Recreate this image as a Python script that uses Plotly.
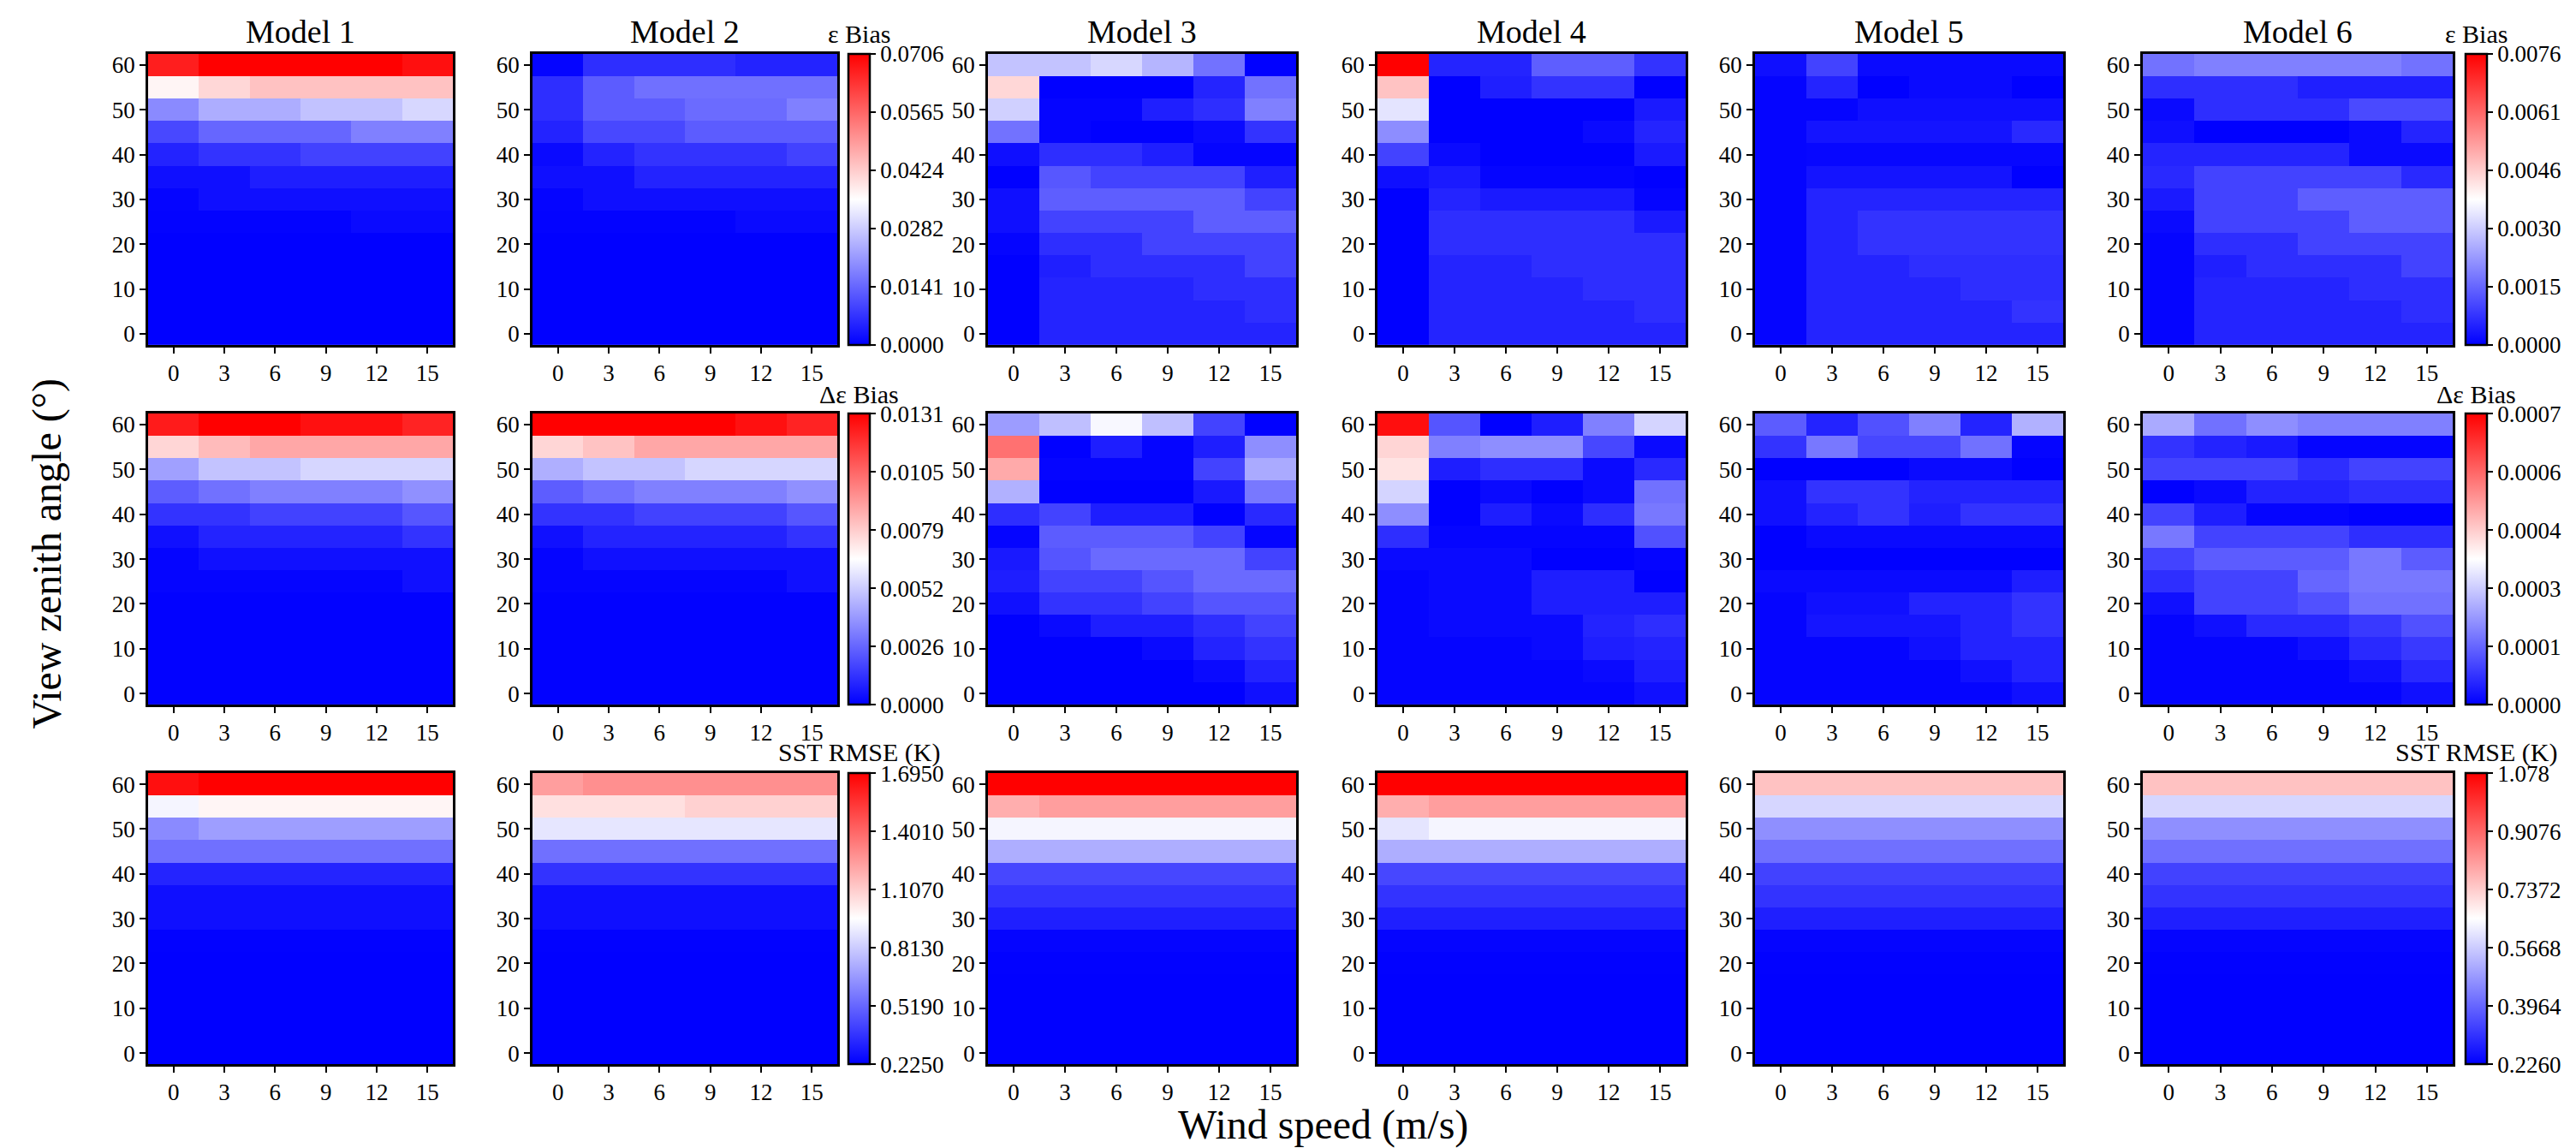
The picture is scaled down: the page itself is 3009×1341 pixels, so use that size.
import numpy as np
import plotly.graph_objects as go

# Figure size (px)
W, H = 3009, 1341
FONT = 'Times New Roman, Liberation Serif, serif'

# ═══════════════════════════════════════════════════════════════════════════
# DATA
# ═══════════════════════════════════════════════════════════════════════════

wind_speed = [0, 3, 6, 9, 12, 15]
view_zenith = [60, 55, 50, 45, 40, 35, 30, 25, 20, 15, 10, 5, 0]  # rows, top -> bottom
model_names = ['Model 1', 'Model 2', 'Model 3', 'Model 4', 'Model 5', 'Model 6']

# --- Row 1: emissivity bias ---
eps_bias_m1 = [
    [0.0664, 0.0706, 0.0706, 0.0706, 0.0706, 0.0685],
    [0.0367, 0.0409, 0.0438, 0.0438, 0.0438, 0.0438],
    [0.0191, 0.0240, 0.0240, 0.0268, 0.0268, 0.0297],
    [0.0099, 0.0141, 0.0141, 0.0141, 0.0177, 0.0177],
    [0.0049, 0.0071, 0.0071, 0.0092, 0.0092, 0.0092],
    [0.0021, 0.0021, 0.0042, 0.0042, 0.0042, 0.0042],
    [0.0007, 0.0021, 0.0021, 0.0021, 0.0021, 0.0021],
    [0.0004, 0.0004, 0.0004, 0.0004, 0.0014, 0.0014],
    [0.0002, 0.0002, 0.0002, 0.0002, 0.0002, 0.0002],
    [0.0001, 0.0001, 0.0001, 0.0001, 0.0001, 0.0001],
    [0.0001, 0.0001, 0.0001, 0.0001, 0.0001, 0.0001],
    [0.0001, 0.0001, 0.0001, 0.0001, 0.0001, 0.0001],
    [0.0001, 0.0001, 0.0001, 0.0001, 0.0001, 0.0001],
]
eps_bias_m2 = [
    [0.0007, 0.0064, 0.0064, 0.0064, 0.0049, 0.0049],
    [0.0064, 0.0127, 0.0155, 0.0155, 0.0155, 0.0155],
    [0.0064, 0.0127, 0.0127, 0.0148, 0.0148, 0.0177],
    [0.0049, 0.0099, 0.0099, 0.0127, 0.0127, 0.0127],
    [0.0014, 0.0049, 0.0071, 0.0071, 0.0071, 0.0092],
    [0.0021, 0.0021, 0.0049, 0.0049, 0.0049, 0.0049],
    [0.0007, 0.0021, 0.0021, 0.0021, 0.0021, 0.0021],
    [0.0004, 0.0004, 0.0004, 0.0004, 0.0014, 0.0014],
    [0.0002, 0.0002, 0.0002, 0.0002, 0.0002, 0.0002],
    [0.0001, 0.0001, 0.0001, 0.0001, 0.0001, 0.0001],
    [0.0001, 0.0001, 0.0001, 0.0001, 0.0001, 0.0001],
    [0.0001, 0.0001, 0.0001, 0.0001, 0.0001, 0.0001],
    [0.0001, 0.0001, 0.0001, 0.0001, 0.0001, 0.0001],
]
eps_bias_m3 = [
    [0.0029, 0.0029, 0.0032, 0.0027, 0.0017, 0.00002],
    [0.0044, 0.00002, 0.00002, 0.00002, 0.00053, 0.0017],
    [0.0031, 0.00008, 0.00008, 0.00046, 0.00068, 0.0019],
    [0.0017, 0.00008, 0.00002, 0.00002, 0.00015, 0.00076],
    [0.00023, 0.00068, 0.00068, 0.00046, 0.00008, 0.00008],
    [0.00002, 0.0013, 0.0010, 0.0010, 0.0010, 0.00046],
    [0.00023, 0.0014, 0.0014, 0.0014, 0.0014, 0.0010],
    [0.00023, 0.0010, 0.0010, 0.0010, 0.0014, 0.0014],
    [0.00008, 0.00068, 0.00068, 0.0010, 0.0010, 0.0010],
    [0.00002, 0.00046, 0.00068, 0.00068, 0.00068, 0.0010],
    [0.00002, 0.00053, 0.00053, 0.00053, 0.00068, 0.00068],
    [0.00002, 0.00053, 0.00053, 0.00053, 0.00053, 0.00068],
    [0.00002, 0.00053, 0.00053, 0.00053, 0.00053, 0.00053],
]
eps_bias_m4 = [
    [0.0076, 0.00053, 0.00053, 0.0014, 0.0014, 0.00076],
    [0.0047, 0.00002, 0.00046, 0.00076, 0.00076, 0.00002],
    [0.0034, 0.00002, 0.00002, 0.00002, 0.00002, 0.00038],
    [0.0021, 0.00002, 0.00002, 0.00002, 0.00015, 0.00053],
    [0.0010, 0.00015, 0.00002, 0.00002, 0.00002, 0.00038],
    [0.00023, 0.00038, 0.00008, 0.00008, 0.00008, 0.00002],
    [0.00002, 0.00053, 0.00038, 0.00038, 0.00038, 0.00008],
    [0.00002, 0.00068, 0.00068, 0.00068, 0.00068, 0.00038],
    [0.00002, 0.00068, 0.00068, 0.00068, 0.00068, 0.00068],
    [0.00002, 0.00053, 0.00053, 0.00068, 0.00068, 0.00068],
    [0.00002, 0.00053, 0.00053, 0.00053, 0.00068, 0.00068],
    [0.00002, 0.00053, 0.00053, 0.00053, 0.00053, 0.00068],
    [0.00002, 0.00053, 0.00053, 0.00053, 0.00053, 0.00053],
]
eps_bias_m5 = [
    [0.00023, 0.0010, 0.00015, 0.00015, 0.00015, 0.00015],
    [0.00008, 0.00053, 0.00002, 0.00015, 0.00015, 0.00002],
    [0.00008, 0.00008, 0.00023, 0.00023, 0.00023, 0.00023],
    [0.00008, 0.00030, 0.00030, 0.00030, 0.00030, 0.00061],
    [0.00008, 0.00011, 0.00011, 0.00011, 0.00011, 0.00011],
    [0.00008, 0.00030, 0.00030, 0.00030, 0.00030, 0.00002],
    [0.00008, 0.00053, 0.00053, 0.00053, 0.00053, 0.00053],
    [0.00008, 0.00053, 0.00076, 0.00076, 0.00076, 0.00076],
    [0.00008, 0.00053, 0.00076, 0.00076, 0.00076, 0.00076],
    [0.00008, 0.00053, 0.00053, 0.00068, 0.00068, 0.00068],
    [0.00008, 0.00053, 0.00053, 0.00053, 0.00068, 0.00068],
    [0.00008, 0.00053, 0.00053, 0.00053, 0.00053, 0.00076],
    [0.00008, 0.00053, 0.00053, 0.00053, 0.00053, 0.00053],
]
eps_bias_m6 = [
    [0.0017, 0.0019, 0.0019, 0.0019, 0.0019, 0.0017],
    [0.00068, 0.00068, 0.00068, 0.00046, 0.00046, 0.00046],
    [0.00015, 0.00068, 0.00068, 0.00068, 0.0011, 0.0011],
    [0.00023, 0.00002, 0.00002, 0.00002, 0.00015, 0.00053],
    [0.00053, 0.00053, 0.00053, 0.00053, 0.00015, 0.00015],
    [0.00061, 0.0010, 0.0010, 0.0010, 0.0010, 0.00061],
    [0.00038, 0.0010, 0.0010, 0.0014, 0.0014, 0.0014],
    [0.00015, 0.0010, 0.0010, 0.0010, 0.0014, 0.0014],
    [0.00008, 0.00068, 0.00068, 0.0010, 0.0010, 0.0010],
    [0.00008, 0.00046, 0.00068, 0.00068, 0.00068, 0.0010],
    [0.00008, 0.00053, 0.00053, 0.00053, 0.00068, 0.00068],
    [0.00008, 0.00053, 0.00053, 0.00053, 0.00053, 0.00068],
    [0.00008, 0.00053, 0.00053, 0.00053, 0.00053, 0.00053],
]

# --- Row 2: delta-emissivity bias ---
deps_bias_m1 = [
    [0.0124, 0.0131, 0.0131, 0.0127, 0.0127, 0.0122],
    [0.0076, 0.0083, 0.0088, 0.0088, 0.0088, 0.0088],
    [0.0041, 0.0050, 0.0050, 0.0055, 0.0055, 0.0055],
    [0.0024, 0.0029, 0.0033, 0.0033, 0.0033, 0.0037],
    [0.0013, 0.0013, 0.0017, 0.0017, 0.0017, 0.0022],
    [0.0004, 0.0009, 0.0009, 0.0009, 0.0009, 0.0013],
    [0.00013, 0.0004, 0.0004, 0.0004, 0.0004, 0.0004],
    [0.00013, 0.00013, 0.00013, 0.00013, 0.00013, 0.0004],
    [0.00004, 0.00004, 0.00004, 0.00004, 0.00004, 0.00004],
    [0.00004, 0.00004, 0.00004, 0.00004, 0.00004, 0.00004],
    [0.00004, 0.00004, 0.00004, 0.00004, 0.00004, 0.00004],
    [0.00004, 0.00004, 0.00004, 0.00004, 0.00004, 0.00004],
    [0.00004, 0.00004, 0.00004, 0.00004, 0.00004, 0.00004],
]
deps_bias_m2 = [
    [0.0131, 0.0131, 0.0131, 0.0131, 0.0127, 0.0122],
    [0.0076, 0.0081, 0.0088, 0.0088, 0.0088, 0.0088],
    [0.0045, 0.0050, 0.0050, 0.0055, 0.0055, 0.0055],
    [0.0024, 0.0029, 0.0033, 0.0033, 0.0033, 0.0037],
    [0.0013, 0.0013, 0.0017, 0.0017, 0.0017, 0.0022],
    [0.0004, 0.0009, 0.0009, 0.0009, 0.0009, 0.0013],
    [0.00013, 0.0004, 0.0004, 0.0004, 0.0004, 0.0004],
    [0.00013, 0.00013, 0.00013, 0.00013, 0.00013, 0.0004],
    [0.00004, 0.00004, 0.00004, 0.00004, 0.00004, 0.00004],
    [0.00004, 0.00004, 0.00004, 0.00004, 0.00004, 0.00004],
    [0.00004, 0.00004, 0.00004, 0.00004, 0.00004, 0.00004],
    [0.00004, 0.00004, 0.00004, 0.00004, 0.00004, 0.00004],
    [0.00004, 0.00004, 0.00004, 0.00004, 0.00004, 0.00004],
]
deps_bias_m3 = [
    [2.2e-4, 2.7e-4, 3.5e-4, 2.7e-4, 9.4e-5, 1e-6],
    [5.6e-4, 1e-6, 4.3e-5, 7e-6, 4.3e-5, 2.0e-4],
    [4.8e-4, 7e-6, 7e-6, 7e-6, 9.4e-5, 2.4e-4],
    [2.5e-4, 1e-6, 1e-6, 1e-6, 3.6e-5, 1.7e-4],
    [6.5e-5, 9.4e-5, 4.3e-5, 4.3e-5, 1e-6, 5.8e-5],
    [7e-6, 1.3e-4, 1.3e-4, 1.3e-4, 9.4e-5, 7e-6],
    [3.6e-5, 1.2e-4, 1.5e-4, 1.5e-4, 1.5e-4, 9.4e-5],
    [4.3e-5, 9.4e-5, 9.4e-5, 1.2e-4, 1.5e-4, 1.5e-4],
    [2.2e-5, 7.2e-5, 7.2e-5, 9.4e-5, 1.2e-4, 1.2e-4],
    [1e-6, 1.4e-5, 4.3e-5, 4.3e-5, 6.5e-5, 9.4e-5],
    [1e-6, 1e-6, 1e-6, 1.4e-5, 5.0e-5, 7.2e-5],
    [1e-6, 1e-6, 1e-6, 1e-6, 1.4e-5, 5.0e-5],
    [1e-6, 1e-6, 1e-6, 1e-6, 1e-6, 2.2e-5],
]
deps_bias_m4 = [
    [7.0e-4, 1.2e-4, 1e-6, 4.3e-5, 1.8e-4, 3.0e-4],
    [4.2e-4, 1.8e-4, 2.0e-4, 2.0e-4, 1.0e-4, 1.4e-5],
    [4.0e-4, 4.3e-5, 6.5e-5, 6.5e-5, 1.4e-5, 5.8e-5],
    [3.0e-4, 1e-6, 1.4e-5, 1e-6, 1.4e-5, 1.6e-4],
    [2.0e-4, 1e-6, 4.3e-5, 1.4e-5, 6.5e-5, 1.7e-4],
    [6.5e-5, 7e-6, 7e-6, 7e-6, 7e-6, 1.15e-4],
    [1.4e-5, 1.4e-5, 1.4e-5, 1e-6, 1e-6, 7e-6],
    [7e-6, 1.4e-5, 1.4e-5, 4.3e-5, 4.3e-5, 1e-6],
    [7e-6, 1.4e-5, 1.4e-5, 4.3e-5, 4.3e-5, 4.3e-5],
    [7e-6, 1.4e-5, 1.4e-5, 1.4e-5, 5.0e-5, 6.5e-5],
    [7e-6, 7e-6, 7e-6, 1.4e-5, 4.3e-5, 5.0e-5],
    [7e-6, 7e-6, 7e-6, 7e-6, 1.4e-5, 4.3e-5],
    [7e-6, 7e-6, 7e-6, 7e-6, 7e-6, 2.2e-5],
]
deps_bias_m5 = [
    [1.3e-4, 5.0e-5, 1.15e-4, 1.8e-4, 5.0e-5, 2.5e-4],
    [7.2e-5, 1.7e-4, 1.0e-4, 1.0e-4, 1.6e-4, 7e-6],
    [1e-6, 1e-6, 1e-6, 1.4e-5, 1.4e-5, 1e-6],
    [2.2e-5, 7.2e-5, 7.2e-5, 5.0e-5, 5.0e-5, 5.0e-5],
    [2.2e-5, 5.0e-5, 7.2e-5, 4.3e-5, 7.2e-5, 7.2e-5],
    [1e-6, 1.4e-5, 1.4e-5, 1.4e-5, 1.4e-5, 1.4e-5],
    [1e-6, 1e-6, 1e-6, 1e-6, 1e-6, 1e-6],
    [1.4e-5, 1.4e-5, 1.4e-5, 1.4e-5, 1.4e-5, 4.3e-5],
    [7e-6, 2.2e-5, 2.2e-5, 5.0e-5, 5.0e-5, 7.2e-5],
    [7e-6, 2.9e-5, 2.9e-5, 2.9e-5, 5.0e-5, 7.2e-5],
    [7e-6, 7e-6, 7e-6, 2.2e-5, 5.0e-5, 5.0e-5],
    [7e-6, 7e-6, 7e-6, 7e-6, 2.2e-5, 5.0e-5],
    [7e-6, 7e-6, 7e-6, 7e-6, 7e-6, 2.2e-5],
]
deps_bias_m6 = [
    [2.4e-4, 1.6e-4, 2.0e-4, 1.8e-4, 1.8e-4, 1.8e-4],
    [7.2e-5, 5.0e-5, 3.6e-5, 7e-6, 7e-6, 7e-6],
    [9.4e-5, 9.4e-5, 9.4e-5, 6.5e-5, 9.4e-5, 9.4e-5],
    [1e-6, 1.4e-5, 5.0e-5, 5.0e-5, 6.5e-5, 6.5e-5],
    [9.4e-5, 4.3e-5, 7e-6, 7e-6, 1e-6, 1e-6],
    [1.7e-4, 9.4e-5, 9.4e-5, 9.4e-5, 6.5e-5, 6.5e-5],
    [9.4e-5, 1.3e-4, 1.3e-4, 1.3e-4, 1.7e-4, 1.3e-4],
    [6.5e-5, 9.4e-5, 9.4e-5, 1.44e-4, 1.7e-4, 1.7e-4],
    [2.2e-5, 9.4e-5, 9.4e-5, 1.15e-4, 1.6e-4, 1.6e-4],
    [7e-6, 2.2e-5, 5.8e-5, 5.8e-5, 8.0e-5, 1.15e-4],
    [7e-6, 7e-6, 7e-6, 2.2e-5, 5.8e-5, 8.0e-5],
    [7e-6, 7e-6, 7e-6, 7e-6, 2.2e-5, 5.8e-5],
    [7e-6, 7e-6, 7e-6, 7e-6, 7e-6, 2.2e-5],
]

# --- Row 3: SST RMSE (K) ---
sst_rmse_m1 = [
    [1.651, 1.695, 1.695, 1.695, 1.695, 1.695],
    [0.931, 0.989, 0.989, 0.989, 0.989, 0.989],
    [0.622, 0.681, 0.681, 0.681, 0.681, 0.681],
    [0.548, 0.548, 0.548, 0.548, 0.548, 0.548],
    [0.328, 0.328, 0.328, 0.328, 0.328, 0.328],
    [0.269, 0.269, 0.269, 0.269, 0.269, 0.269],
    [0.269, 0.269, 0.269, 0.269, 0.269, 0.269],
    [0.232, 0.232, 0.232, 0.232, 0.232, 0.232],
    [0.229, 0.229, 0.229, 0.229, 0.229, 0.229],
    [0.228, 0.228, 0.228, 0.228, 0.228, 0.228],
    [0.227, 0.227, 0.227, 0.227, 0.227, 0.227],
    [0.226, 0.226, 0.226, 0.226, 0.226, 0.226],
    [0.226, 0.226, 0.226, 0.226, 0.226, 0.226],
]
sst_rmse_m2 = [
    [1.239, 1.283, 1.283, 1.283, 1.283, 1.283],
    [1.048, 1.048, 1.048, 1.092, 1.092, 1.092],
    [0.887, 0.887, 0.887, 0.887, 0.887, 0.887],
    [0.548, 0.548, 0.548, 0.548, 0.548, 0.548],
    [0.372, 0.372, 0.372, 0.372, 0.372, 0.372],
    [0.269, 0.269, 0.269, 0.269, 0.269, 0.269],
    [0.269, 0.269, 0.269, 0.269, 0.269, 0.269],
    [0.232, 0.232, 0.232, 0.232, 0.232, 0.232],
    [0.229, 0.229, 0.229, 0.229, 0.229, 0.229],
    [0.228, 0.228, 0.228, 0.228, 0.228, 0.228],
    [0.227, 0.227, 0.227, 0.227, 0.227, 0.227],
    [0.226, 0.226, 0.226, 0.226, 0.226, 0.226],
    [0.226, 0.226, 0.226, 0.226, 0.226, 0.226],
]
sst_rmse_m3 = [
    [1.078, 1.078, 1.078, 1.078, 1.078, 1.078],
    [0.788, 0.814, 0.814, 0.814, 0.814, 0.814],
    [0.635, 0.635, 0.635, 0.635, 0.635, 0.635],
    [0.516, 0.516, 0.516, 0.516, 0.516, 0.516],
    [0.345, 0.345, 0.345, 0.345, 0.345, 0.345],
    [0.311, 0.311, 0.311, 0.311, 0.311, 0.311],
    [0.277, 0.277, 0.277, 0.277, 0.277, 0.277],
    [0.235, 0.235, 0.235, 0.235, 0.235, 0.235],
    [0.229, 0.229, 0.229, 0.229, 0.229, 0.229],
    [0.228, 0.228, 0.228, 0.228, 0.228, 0.228],
    [0.228, 0.228, 0.228, 0.228, 0.228, 0.228],
    [0.227, 0.227, 0.227, 0.227, 0.227, 0.227],
    [0.227, 0.227, 0.227, 0.227, 0.227, 0.227],
]
sst_rmse_m4 = [
    [1.078, 1.078, 1.078, 1.078, 1.078, 1.078],
    [0.788, 0.814, 0.814, 0.814, 0.814, 0.814],
    [0.609, 0.635, 0.635, 0.635, 0.635, 0.635],
    [0.516, 0.516, 0.516, 0.516, 0.516, 0.516],
    [0.345, 0.345, 0.345, 0.345, 0.345, 0.345],
    [0.311, 0.311, 0.311, 0.311, 0.311, 0.311],
    [0.277, 0.277, 0.277, 0.277, 0.277, 0.277],
    [0.235, 0.235, 0.235, 0.235, 0.235, 0.235],
    [0.229, 0.229, 0.229, 0.229, 0.229, 0.229],
    [0.228, 0.228, 0.228, 0.228, 0.228, 0.228],
    [0.228, 0.228, 0.228, 0.228, 0.228, 0.228],
    [0.227, 0.227, 0.227, 0.227, 0.227, 0.227],
    [0.227, 0.227, 0.227, 0.227, 0.227, 0.227],
]
sst_rmse_m5 = [
    [0.754, 0.754, 0.754, 0.754, 0.754, 0.754],
    [0.584, 0.584, 0.584, 0.584, 0.584, 0.584],
    [0.465, 0.465, 0.465, 0.465, 0.465, 0.465],
    [0.413, 0.413, 0.413, 0.413, 0.413, 0.413],
    [0.337, 0.337, 0.337, 0.337, 0.337, 0.337],
    [0.311, 0.311, 0.311, 0.311, 0.311, 0.311],
    [0.277, 0.277, 0.277, 0.277, 0.277, 0.277],
    [0.235, 0.235, 0.235, 0.235, 0.235, 0.235],
    [0.229, 0.229, 0.229, 0.229, 0.229, 0.229],
    [0.228, 0.228, 0.228, 0.228, 0.228, 0.228],
    [0.228, 0.228, 0.228, 0.228, 0.228, 0.228],
    [0.227, 0.227, 0.227, 0.227, 0.227, 0.227],
    [0.227, 0.227, 0.227, 0.227, 0.227, 0.227],
]
sst_rmse_m6 = [
    [0.754, 0.754, 0.754, 0.754, 0.754, 0.754],
    [0.584, 0.584, 0.584, 0.584, 0.584, 0.584],
    [0.465, 0.465, 0.465, 0.465, 0.465, 0.465],
    [0.413, 0.413, 0.413, 0.413, 0.413, 0.413],
    [0.337, 0.337, 0.337, 0.337, 0.337, 0.337],
    [0.311, 0.311, 0.311, 0.311, 0.311, 0.311],
    [0.277, 0.277, 0.277, 0.277, 0.277, 0.277],
    [0.235, 0.235, 0.235, 0.235, 0.235, 0.235],
    [0.229, 0.229, 0.229, 0.229, 0.229, 0.229],
    [0.228, 0.228, 0.228, 0.228, 0.228, 0.228],
    [0.228, 0.228, 0.228, 0.228, 0.228, 0.228],
    [0.227, 0.227, 0.227, 0.227, 0.227, 0.227],
    [0.227, 0.227, 0.227, 0.227, 0.227, 0.227],
]

# Colorbar ranges (left bar: models 1-2, right bar: models 3-6)
eps_range = [(0.0, 0.0706), (0.0, 0.0076)]
deps_range = [(0.0, 0.0131), (0.0, 0.00072)]
sst_range = [(0.225, 1.695), (0.226, 1.078)]

eps_ticktext = [['0.0000', '0.0141', '0.0282', '0.0424', '0.0565', '0.0706'],
                ['0.0000', '0.0015', '0.0030', '0.0046', '0.0061', '0.0076']]
deps_ticktext = [['0.0000', '0.0026', '0.0052', '0.0079', '0.0105', '0.0131'],
                 ['0.0000', '0.0001', '0.0003', '0.0004', '0.0006', '0.0007']]
sst_ticktext = [['0.2250', '0.5190', '0.8130', '1.1070', '1.4010', '1.6950'],
                ['0.2260', '0.3964', '0.5668', '0.7372', '0.9076', '1.078']]

rows = [
    dict(z=[eps_bias_m1, eps_bias_m2, eps_bias_m3, eps_bias_m4, eps_bias_m5, eps_bias_m6],
         title='ε Bias', ranges=eps_range, ticktext=eps_ticktext),
    dict(z=[deps_bias_m1, deps_bias_m2, deps_bias_m3, deps_bias_m4, deps_bias_m5, deps_bias_m6],
         title='Δε Bias', ranges=deps_range, ticktext=deps_ticktext),
    dict(z=[sst_rmse_m1, sst_rmse_m2, sst_rmse_m3, sst_rmse_m4, sst_rmse_m5, sst_rmse_m6],
         title='SST RMSE (K)', ranges=sst_range, ticktext=sst_ticktext),
]

# ═══════════════════════════════════════════════════════════════════════════
# LAYOUT (pixel positions)
# ═══════════════════════════════════════════════════════════════════════════

col_left = [165, 614, 1146, 1601, 2042, 2495]
col_right = [521, 970, 1506, 1961, 2402, 2857]
row_top = [54, 475, 896]
row_bottom = [395, 816, 1237]
cbar_left = [983, 2872]
cbar_w = 25
cbar_title_gap = [23, 22, 24]

# matplotlib 'bwr'
bwr = [[0.0, 'rgb(0,0,255)'], [0.5, 'rgb(255,255,255)'], [1.0, 'rgb(255,0,0)']]


def px_x(px):
    return px / W


def px_y(px):
    return 1 - px / H


fig = go.Figure()
layout = dict(
    width=W, height=H,
    margin=dict(l=0, r=0, t=0, b=0),
    paper_bgcolor='white', plot_bgcolor='white',
    font=dict(family=FONT, color='black', size=27),
    showlegend=False,
)
annotations = []

axis_common = dict(
    showline=True, mirror=True, linecolor='black', linewidth=2.5,
    ticks='outside', ticklen=7, tickwidth=2, tickcolor='black',
    showgrid=False, zeroline=False,
    tickfont=dict(family=FONT, size=27, color='black'),
)

for r, row in enumerate(rows):
    for g in range(2):
        ca_idx = r * 2 + g + 1
        ca_name = 'coloraxis' if ca_idx == 1 else f'coloraxis{ca_idx}'
        lo, hi = row['ranges'][g]
        layout[ca_name] = dict(
            colorscale=bwr, cmin=lo, cmax=hi,
            colorbar=dict(
                x=px_x(cbar_left[g]), xanchor='left', xpad=0, ypad=0,
                y=px_y((row_top[r] + row_bottom[r]) / 2), yanchor='middle',
                len=(row_bottom[r] - row_top[r]) / H, lenmode='fraction',
                thickness=cbar_w, thicknessmode='pixels',
                outlinewidth=2.5, outlinecolor='black',
                ticks='outside', ticklen=6, tickwidth=2, tickcolor='black',
                tickvals=list(np.linspace(lo, hi, 6)),
                ticktext=row['ticktext'][g],
                tickfont=dict(family=FONT, size=27, color='black'),
            ),
        )
        annotations.append(dict(
            text=row['title'], xref='paper', yref='paper',
            x=px_x(cbar_left[g] + cbar_w / 2), y=px_y(row_top[r] - cbar_title_gap[r]),
            xanchor='center', yanchor='middle', showarrow=False, borderpad=0,
            font=dict(family=FONT, size=30, color='black'),
        ))

    for c in range(6):
        k = r * 6 + c + 1
        xa = 'xaxis' if k == 1 else f'xaxis{k}'
        ya = 'yaxis' if k == 1 else f'yaxis{k}'
        xr = 'x' if k == 1 else f'x{k}'
        yr = 'y' if k == 1 else f'y{k}'
        g = 0 if c < 2 else 1
        ca_idx = r * 2 + g + 1
        ca_name = 'coloraxis' if ca_idx == 1 else f'coloraxis{ca_idx}'

        fig.add_trace(go.Heatmap(
            x=wind_speed, y=view_zenith, z=row['z'][c],
            coloraxis=ca_name, xaxis=xr, yaxis=yr,
        ))

        layout[xa] = dict(
            axis_common,
            domain=[px_x(col_left[c]), px_x(col_right[c])],
            anchor=yr, range=[-1.5, 16.5],
            tickvals=wind_speed,
        )
        layout[ya] = dict(
            axis_common,
            domain=[px_y(row_bottom[r]), px_y(row_top[r])],
            anchor=xr, range=[-2.5, 62.5],
            tickvals=[0, 10, 20, 30, 40, 50, 60],
        )

# Model titles
for c, name in enumerate(model_names):
    annotations.append(dict(
        text=name, xref='paper', yref='paper',
        x=px_x((col_left[c] + col_right[c]) / 2), y=px_y(28),
        xanchor='center', yanchor='middle', showarrow=False,
        font=dict(family=FONT, size=38, color='black'),
    ))

# Shared axis titles
annotations.append(dict(
    text='View zenith angle (°)', xref='paper', yref='paper',
    x=px_x(47), y=px_y(640), xanchor='center', yanchor='middle',
    textangle=-90, showarrow=False,
    font=dict(family=FONT, size=48, color='black'),
))
annotations.append(dict(
    text='Wind speed (m/s)', xref='paper', yref='paper',
    x=px_x(1538), y=px_y(1308), xanchor='center', yanchor='middle',
    showarrow=False, borderpad=0,
    font=dict(family=FONT, size=48, color='black'),
))

layout['annotations'] = annotations
fig.update_layout(**layout)

fig.write_html('out.html')
